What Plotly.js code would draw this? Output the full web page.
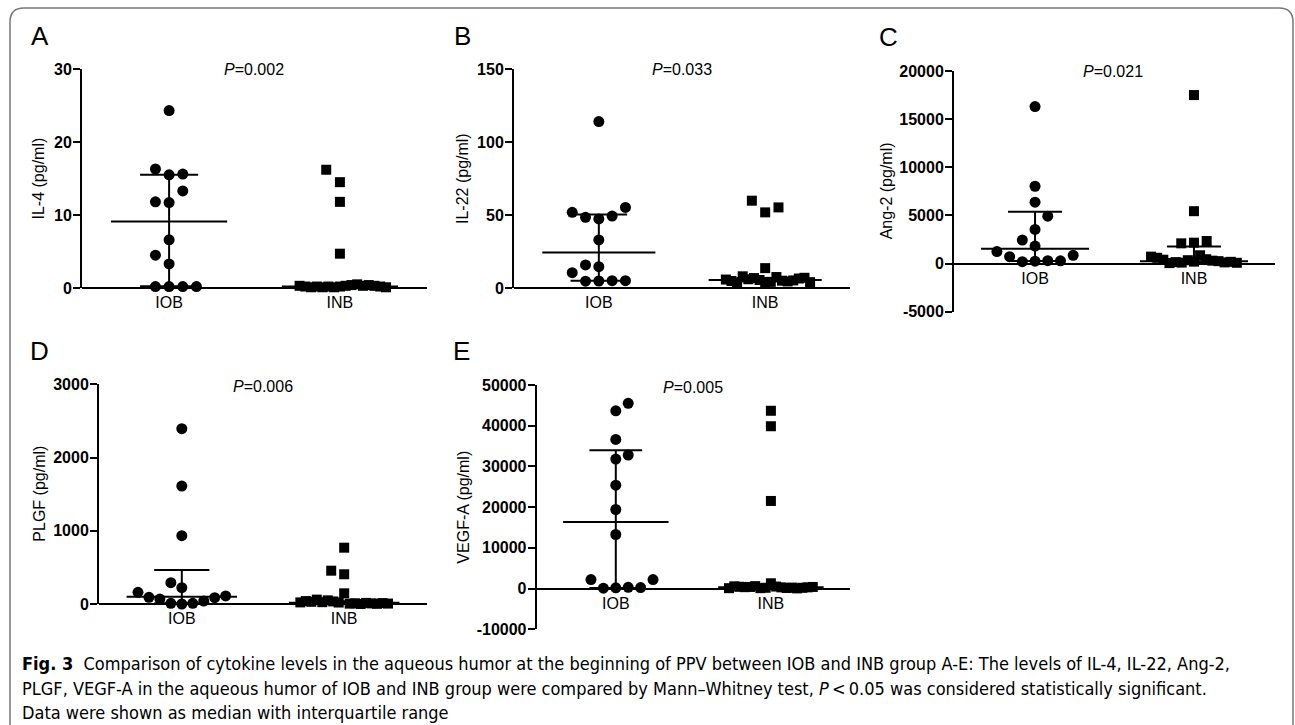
<!DOCTYPE html>
<html><head><meta charset="utf-8">
<script src="https://cdn.plot.ly/plotly-3.0.1.min.js"></script>
<style>html,body{margin:0;padding:0;background:#fff}</style>
</head><body><div id="chart" style="width:1295px;height:725px"></div>
<script>
// ---------- DATA ----------
const groups = ['IOB', 'INB'];

// A: IL-4 (pg/ml)
const il4_IOB = [0.2, 0.2, 0.2, 0.2, 3.3, 6.6, 4.5, 11.7, 11.8, 13.3, 15.5, 15.6, 16.3, 24.3];
const il4_INB = [4.7, 14.5, 16.2, 11.8, 0.2, 0.3, 0.1, 0.4, 0.2, 0.5, 0.1, 0.3, 0.2, 0.4, 0.1, 0.3, 0.2, 0.2, 0.3, 0.1];
const il4_median = [9.1, 0.2];
const il4_q1 = [0.25, 0.1];
const il4_q3 = [15.5, 0.3];

// B: IL-22 (pg/ml)
const il22_IOB = [4.8, 5.0, 4.7, 5.0, 10.5, 14.6, 15.8, 32.9, 47.3, 49.3, 48.4, 114, 51.8, 55.2];
const il22_INB = [13.6, 51.8, 59.8, 55.2, 5.5, 4.2, 6.8, 3.5, 7.5, 5.0, 6.0, 4.5, 8.0, 5.2, 3.8, 6.5, 4.8, 7.0, 5.8, 4.0];
const il22_median = [24.4, 5.5];
const il22_q1 = [5.0, 4.5];
const il22_q3 = [50.4, 6.8];

// C: Ang-2 (pg/ml)
const ang2_IOB = [250, 300, 200, 280, 720, 860, 1240, 1820, 2440, 3550, 16300, 4920, 6370, 8030];
const ang2_INB = [17500, 5440, 2170, 2340, 2100, 860, 200, 350, 100, 450, 150, 300, 50, 250, 400, 120, 600, 180, 720, 80];
const ang2_median = [1550, 250];
const ang2_q1 = [270, 100];
const ang2_q3 = [5380, 1760];

// D: PLGF (pg/ml)
const plgf_IOB = [0, 9, 9, 41, 68, 86, 91, 110, 160, 223, 291, 933, 1611, 2394];
const plgf_INB = [769, 406, 455, 146, 20, 5, 35, 10, 50, 0, 25, 15, 60, 8, 30, 3, 40, 12, 22, 6];
const plgf_median = [100, 18];
const plgf_q1 = [9, 7];
const plgf_q3 = [464, 38];

// E: VEGF-A (pg/ml)
const vegf_IOB = [200, 300, 100, 250, 2210, 2210, 13280, 19420, 25400, 36640, 31800, 32780, 43670, 45490];
const vegf_INB = [43670, 39870, 21520, 1300, 200, 500, 100, 300, 600, 150, 400, 250, 350, 50, 450, 200, 550, 300, 100, 400];
const vegf_median = [16380, 300];
const vegf_q1 = [150, 150];
const vegf_q3 = [34000, 500];

// tick values / labels
const ticksA = [0, 10, 20, 30];
const tickTextA = ['0', '10', '20', '30'];
const ticksB = [0, 50, 100, 150];
const tickTextB = ['0', '50', '100', '150'];
const ticksC = [-5000, 0, 5000, 10000, 15000, 20000];
const tickTextC = ['-5000', '0', '5000', '10000', '15000', '20000'];
const ticksD = [0, 1000, 2000, 3000];
const tickTextD = ['0', '1000', '2000', '3000'];
const ticksE = [-10000, 0, 10000, 20000, 30000, 40000, 50000];
const tickTextE = ['-10000', '0', '10000', '20000', '30000', '40000', '50000'];

const pValues = ['0.002', '0.033', '0.021', '0.006', '0.005'];
const yTitles = ['IL-4 (pg/ml)', 'IL-22 (pg/ml)', 'Ang-2 (pg/ml)', 'PLGF (pg/ml)', 'VEGF-A (pg/ml)'];
const letters = ['A', 'B', 'C', 'D', 'E'];
const captionLines = [
  '<b>Fig. 3</b>  Comparison of cytokine levels in the aqueous humor at the beginning of PPV between IOB and INB group A-E: The levels of IL-4, IL-22, Ang-2,',
  'PLGF, VEGF-A in the aqueous humor of IOB and INB group were compared by Mann\u2013Whitney test, <i>P</i>\u2009<\u20090.05 was considered statistically significant.',
  'Data were shown as median with interquartile range'
];

// ---------- LAYOUT (pixel boxes) ----------
const W = 1295, H = 725;
const FONT = '"Liberation Sans", Arial, sans-serif';
const CAPFONT = '"Liberation Sans Narrow", "DejaVu Sans Condensed", "Liberation Sans", sans-serif';
const panels = [
  {iob: il4_IOB, inb: il4_INB, med: il4_median, q1: il4_q1, q3: il4_q3, tv: ticksA, tt: tickTextA, range: [0, 30],
   box: {l: 82, r: 427, t: 69, b: 288}, titleX: 38, letterPos: [40, 36], pPos: [254, 70]},
  {iob: il22_IOB, inb: il22_INB, med: il22_median, q1: il22_q1, q3: il22_q3, tv: ticksB, tt: tickTextB, range: [0, 150],
   box: {l: 514, r: 850, t: 69, b: 288}, titleX: 462.5, letterPos: [462, 36], pPos: [682.5, 70]},
  {iob: ang2_IOB, inb: ang2_INB, med: ang2_median, q1: ang2_q1, q3: ang2_q3, tv: ticksC, tt: tickTextC, range: [-5000, 20000],
   box: {l: 954, r: 1275, t: 71, b: 311.7}, titleX: 886, letterPos: [888, 36.7], pPos: [1113, 71.7]},
  {iob: plgf_IOB, inb: plgf_INB, med: plgf_median, q1: plgf_q1, q3: plgf_q3, tv: ticksD, tt: tickTextD, range: [0, 3000],
   box: {l: 99, r: 427, t: 384.3, b: 604}, titleX: 39.5, letterPos: [39, 351], pPos: [262.5, 386]},
  {iob: vegf_IOB, inb: vegf_INB, med: vegf_median, q1: vegf_q1, q3: vegf_q3, tv: ticksE, tt: tickTextE, range: [-10000, 50000],
   box: {l: 536.7, r: 850, t: 385, b: 629.3}, titleX: 463.5, letterPos: [461, 351], pPos: [693, 387.3]}
];

// beeswarm offsets (category units) computed from values in pixel space
function swarm(vals, pxu) {
  const D = 14, LINK = 7, SLOT = 0.08, MAXH = 0.27;
  const pts = [];
  vals.forEach((v, i) => {
    const y = v * pxu;
    const free = k => !pts.some(p => p.k === k && Math.abs(p.y - y) < D);
    let k = 0;
    if (!free(0)) {
      for (let m = 1; m < 200; m++) {
        const a = (i % 2 === 0) ? -m : m;
        if (free(a)) { k = a; break; }
        if (free(-a)) { k = -a; break; }
      }
    }
    pts.push({y, k});
  });
  const n = pts.length, comp = new Array(n).fill(-1);
  let c = 0;
  for (let i = 0; i < n; i++) {
    if (comp[i] >= 0) continue;
    const st = [i]; comp[i] = c;
    while (st.length) {
      const j = st.pop();
      for (let q = 0; q < n; q++) {
        if (comp[q] < 0 && Math.abs(pts[q].y - pts[j].y) < LINK) { comp[q] = c; st.push(q); }
      }
    }
    c++;
  }
  const maxK = new Array(c).fill(0);
  pts.forEach((p, i) => { maxK[comp[i]] = Math.max(maxK[comp[i]], Math.abs(p.k)); });
  return pts.map((p, i) => {
    const mk = maxK[comp[i]];
    const s = mk * SLOT > MAXH ? MAXH / (mk * SLOT) : 1;
    return p.k * SLOT * s;
  });
}

const traces = [];
const layout = {
  width: W, height: H, margin: {l: 0, r: 0, t: 0, b: 0},
  paper_bgcolor: '#fff', plot_bgcolor: 'rgba(0,0,0,0)', showlegend: false,
  annotations: [], shapes: []
};
const XR = [0.49, 2.51];

panels.forEach((P, i) => {
  const sfx = i === 0 ? '' : String(i + 1);
  const xa = 'x' + sfx, ya = 'y' + sfx;
  const b = P.box;
  const pxu = (b.b - b.t) / (P.range[1] - P.range[0]);
  const zeroPx = b.t + P.range[1] * pxu;
  const ydom = [1 - b.b / H, 1 - b.t / H];
  layout['xaxis' + sfx] = {
    domain: [b.l / W, b.r / W], range: XR, anchor: 'free', position: 1 - zeroPx / H,
    showline: true, linecolor: '#000', linewidth: 2, showgrid: false, zeroline: false,
    tickvals: [1, 2], ticktext: groups, ticks: '', fixedrange: true,
    tickfont: {family: FONT, size: 16, color: '#000'}
  };
  layout['yaxis' + sfx] = {
    domain: ydom, range: P.range, anchor: xa,
    showline: true, linecolor: '#000', linewidth: 2, showgrid: false, zeroline: false,
    ticks: 'outside', ticklen: 7, tickwidth: 2, tickcolor: '#000', ticklabelstandoff: -2,
    tickvals: P.tv, ticktext: P.tt, fixedrange: true,
    tickfont: {family: FONT, size: 16, color: '#000', weight: 'bold'}
  };
  const offI = swarm(P.iob, pxu), offN = swarm(P.inb, pxu);
  traces.push({type: 'scatter', mode: 'markers', xaxis: xa, yaxis: ya, cliponaxis: false,
    x: offI.map(o => 1 + o), y: P.iob, marker: {symbol: 'circle', size: 11, color: '#000'}, hoverinfo: 'y'});
  traces.push({type: 'scatter', mode: 'markers', xaxis: xa, yaxis: ya, cliponaxis: false,
    x: offN.map(o => 2 + o), y: P.inb, marker: {symbol: 'square', size: 10, color: '#000'}, hoverinfo: 'y'});
  // median + interquartile range
  const lx = [], ly = [];
  [1, 2].forEach((c, g) => {
    lx.push(c - 0.34, c + 0.34, null, c - 0.17, c + 0.17, null, c - 0.17, c + 0.17, null, c, c, null);
    ly.push(P.med[g], P.med[g], null, P.q3[g], P.q3[g], null, P.q1[g], P.q1[g], null, P.q1[g], P.q3[g], null);
  });
  traces.push({type: 'scatter', mode: 'lines', xaxis: xa, yaxis: ya, x: lx, y: ly,
    line: {color: '#000', width: 2}, hoverinfo: 'skip', connectgaps: false});

  // annotations
  layout.annotations.push({xref: 'paper', yref: 'paper', x: P.letterPos[0] / W, y: 1 - P.letterPos[1] / H,
    xanchor: 'center', yanchor: 'middle', showarrow: false, text: letters[i],
    font: {family: FONT, size: 26, color: '#000'}});
  layout.annotations.push({xref: 'paper', yref: 'paper', x: P.pPos[0] / W, y: 1 - P.pPos[1] / H,
    xanchor: 'center', yanchor: 'middle', showarrow: false, text: '<i>P</i>=' + pValues[i],
    font: {family: FONT, size: 16, color: '#000'}});
  layout.annotations.push({xref: 'paper', yref: 'paper', x: P.titleX / W, y: 1 - (b.t + b.b) / 2 / H,
    xanchor: 'center', yanchor: 'middle', showarrow: false, textangle: -90, text: yTitles[i],
    font: {family: FONT, size: 16, color: '#000'}});
});

// caption
const capY = [663, 688, 712];
captionLines.forEach((t, k) => {
  layout.annotations.push({xref: 'paper', yref: 'paper', x: 20 / W, y: 1 - capY[k] / H,
    xanchor: 'left', yanchor: 'middle', showarrow: false, text: t, align: 'left',
    font: {family: CAPFONT, size: 18, color: '#000'}});
});

// rounded frame
function px(x, y) { return (x / W).toFixed(5) + ',' + (1 - y / H).toFixed(5); }
layout.shapes.push({type: 'path', xref: 'paper', yref: 'paper', line: {color: '#777', width: 1.5},
  path: 'M' + px(10, 735) + ' L' + px(10, 22) + ' Q' + px(10, 8) + ' ' + px(24, 8) +
        ' L' + px(1279, 8) + ' Q' + px(1293, 8) + ' ' + px(1293, 22) + ' L' + px(1293, 735)});

Plotly.newPlot('chart', traces, layout, {displayModeBar: false, staticPlot: true});
</script></body></html>
